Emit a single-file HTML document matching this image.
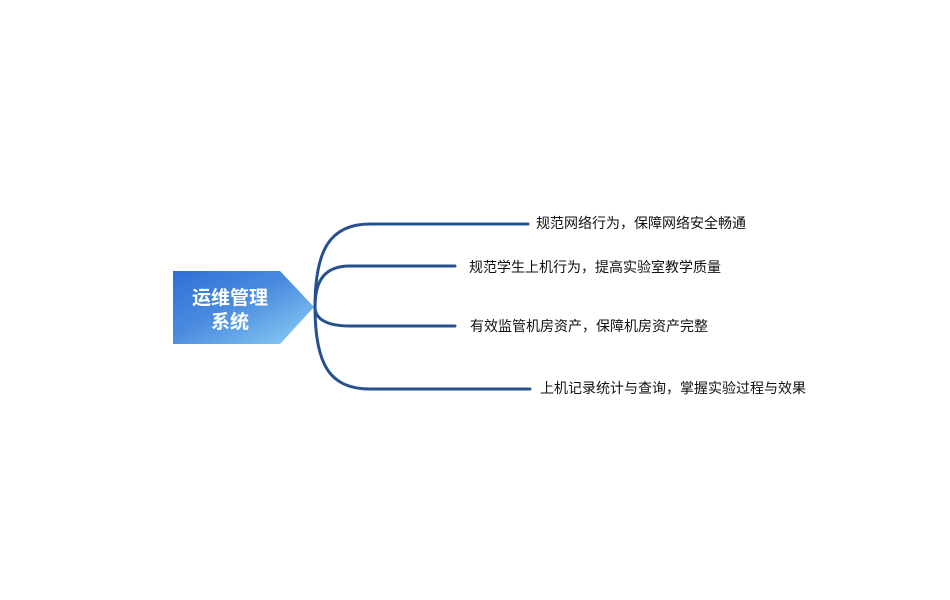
<!DOCTYPE html>
<html><head><meta charset="utf-8"><style>
body{margin:0;background:#fff;}
svg{display:block;}
text{font-family:"Liberation Sans","Noto Sans CJK SC",sans-serif;}
</style></head><body>
<svg width="950" height="600" viewBox="0 0 950 600" xmlns="http://www.w3.org/2000/svg">
<defs><linearGradient id="g" x1="0" y1="0" x2="1" y2="1">
<stop offset="0" stop-color="#2f6fd6"/><stop offset="0.45" stop-color="#4a8be0"/><stop offset="1" stop-color="#8fd0f5"/></linearGradient></defs>
<polygon points="173,271 280,271 314,307 280,344 173,344" fill="url(#g)"/>
<text x="230" y="304" fill="#fff" font-size="19" font-weight="bold" text-anchor="middle">运维管理</text>
<text x="230" y="328" fill="#fff" font-size="19" font-weight="bold" text-anchor="middle">系统</text>
<g fill="none" stroke="#27508f" stroke-width="3" stroke-linecap="round">
<path d="M315,307 C315,250 330,224 370,224 L528,224"/>
<path d="M315,307 C315,280 325,266 350,266 L455,266"/>
<path d="M315,307 C315,318 325,326 350,326 L455,326"/>
<path d="M315,307 C315,365 330,389 370,389 L530,389"/>
</g>
<g font-size="14" fill="#111">
<text x="536" y="228">规范网络行为，保障网络安全畅通</text>
<text x="469" y="272">规范学生上机行为，提高实验室教学质量</text>
<text x="470" y="331">有效监管机房资产，保障机房资产完整</text>
<text x="540" y="393">上机记录统计与查询，掌握实验过程与效果</text>
</g>
</svg>
</body></html>
